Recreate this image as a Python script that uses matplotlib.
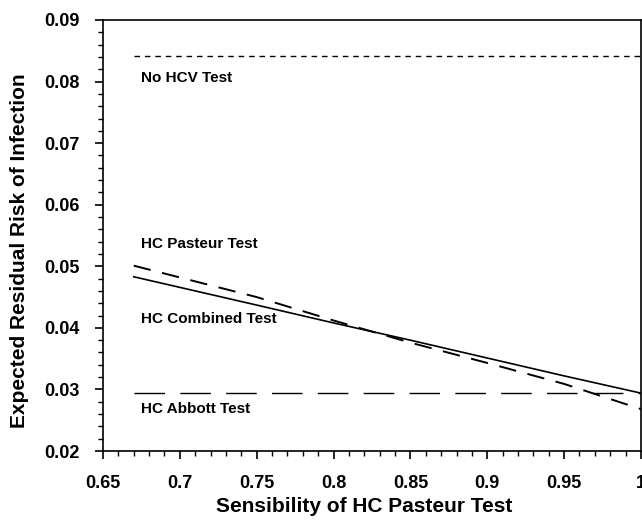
import matplotlib.pyplot as plt
from matplotlib.ticker import MultipleLocator

plt.rcParams['font.family'] = ['Liberation Sans', 'DejaVu Sans']
plt.rcParams['font.weight'] = 'bold'

# sensibility of the HC Pasteur test
sens = [0.67, 0.75, 0.80, 0.85, 0.90, 0.95, 1.00]
no_hcv = [0.0842, 0.0842, 0.0842, 0.0842, 0.0842, 0.0842, 0.0842]
pasteur = [0.0501, 0.0450, 0.0412, 0.0376, 0.0343, 0.0309, 0.0268]
combined = [0.0483, 0.0437, 0.0408, 0.0380, 0.0351, 0.0322, 0.0294]
abbott = [0.0294, 0.0294, 0.0294, 0.0294, 0.0294, 0.0294, 0.0294]

labels = ['No HCV Test', 'HC Pasteur Test', 'HC Combined Test', 'HC Abbott Test']
label_y = [0.0805, 0.0537, 0.0414, 0.0268]

xticks = [0.65, 0.7, 0.75, 0.8, 0.85, 0.9, 0.95, 1.0]
xticklabels = ['0.65', '0.7', '0.75', '0.8', '0.85', '0.9', '0.95', '1']
yticks = [0.02, 0.03, 0.04, 0.05, 0.06, 0.07, 0.08, 0.09]
yticklabels = ['0.02', '0.03', '0.04', '0.05', '0.06', '0.07', '0.08', '0.09']

fig = plt.figure(figsize=(6.42, 5.22), dpi=100)
ax = fig.add_axes([0.1604, 0.136, 0.838, 0.8257])

ax.plot(sens, no_hcv, color='black', lw=1.0, dashes=(4, 3.5))
ax.plot(sens, pasteur, color='black', lw=1.4, dashes=(9, 6))
ax.plot(sens, combined, color='black', lw=1.2)
ax.plot(sens, abbott, color='black', lw=1.0, dashes=(22, 11))

for text, y in zip(labels, label_y):
    ax.text(0.6747, y, text, fontsize=11, fontweight='bold', va='center')

ax.set_xlim(0.65, 1.0)
ax.set_ylim(0.02, 0.09)
ax.xaxis.set_minor_locator(MultipleLocator(0.01))
ax.yaxis.set_minor_locator(MultipleLocator(0.002))
ax.set_xticks(xticks)
ax.set_xticklabels(xticklabels)
ax.set_yticks(yticks)
ax.set_yticklabels(yticklabels)

ax.tick_params(which='major', direction='out', length=6, width=1.2, labelsize=13, pad=11)
ax.tick_params(which='minor', direction='out', length=3.5, width=1.0)
ax.tick_params(top=False, right=False)
for side in ax.spines.values():
    side.set_linewidth(1.2)

ax.set_xlabel('Sensibility of HC Pasteur Test', fontsize=15, fontweight='bold')
ax.set_ylabel('Expected Residual Risk of Infection', fontsize=15, fontweight='bold')
ax.xaxis.set_label_coords(0.486, -0.107)
ax.yaxis.set_label_coords(-0.137, 0.464)

fig.savefig('out.png', dpi=100)
